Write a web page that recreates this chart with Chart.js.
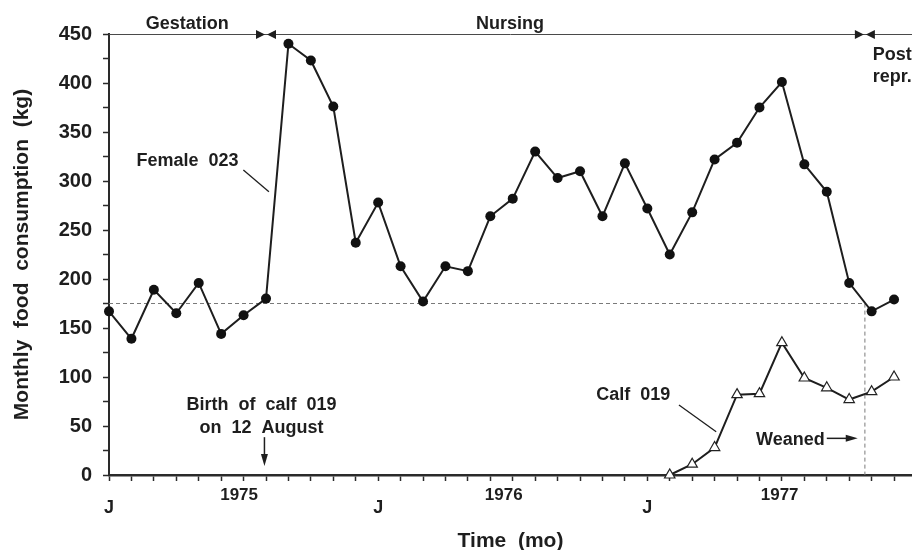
<!DOCTYPE html>
<html>
<head>
<meta charset="utf-8">
<script src="https://cdn.jsdelivr.net/npm/chart.js@4.4.1/dist/chart.umd.min.js"></script>
<style>
  html, body { margin: 0; padding: 0; background: #fff; }
  #wrap { width: 912px; height: 550px; position: relative; }
</style>
</head>
<body>
<div id="wrap"><canvas id="c"></canvas></div>
<script>
// ---- Data (month index: 0 = January 1975) ----
const femaleMonths = [0,1,2,3,4,5,6,7,8,9,10,11,12,13,14,15,16,17,18,19,20,21,22,23,24,25,26,27,28,29,30,31,32,33,34,35];
const femaleValues = [167,139,189,165,196,144,163,180,440,423,376,237,278,213,177,213,208,264,282,330,303,310,264,318,272,225,268,322,339,375,401,317,289,196,167,179];
const calfMonths = [25,26,27,28,29,30,31,32,33,34,35];
const calfValues = [0,11,28,82,83,135,99,89,77,85,100];

// x tick labels ("J" = January) and year labels
const janMonths = [0,12,24];
const yearLabels = ['1975','1976','1977'];
const yearPositions = [5.8,17.6,29.9];

// reference levels / events (data units)
const baselineLevel = 175;      // dashed horizontal level
const birthMonth = 7;           // 12 August 1975
const weanMonth = 33.7;         // weaning / end of nursing

const FONT = "'Liberation Sans', Arial, Helvetica, sans-serif";
const INK = '#1e1e1e';
Chart.defaults.font.family = FONT;
Chart.defaults.font.weight = 'bold';
Chart.defaults.color = INK;

const annot = {
  id: 'annot',
  beforeDatasetsDraw(chart) {
    const {ctx, scales: {x, y}} = chart;
    const X = v => x.getPixelForValue(v), Y = v => y.getPixelForValue(v);
    ctx.save();
    // dashed reference lines
    ctx.strokeStyle = '#7a7a7a';
    ctx.lineWidth = 1;
    ctx.setLineDash([4, 3]);
    ctx.beginPath();
    ctx.moveTo(X(0), Y(baselineLevel));
    ctx.lineTo(X(weanMonth), Y(baselineLevel));
    ctx.lineTo(X(weanMonth), Y(0));
    ctx.stroke();
    ctx.setLineDash([]);
    // phase line along the top
    ctx.strokeStyle = '#4a4a4a';
    ctx.beginPath();
    ctx.moveTo(X(0), Y(450) + 0.5);
    ctx.lineTo(chart.chartArea.right, Y(450) + 0.5);
    ctx.stroke();
    ctx.fillStyle = INK;
    [birthMonth, weanMonth].forEach(b => {
      const bx = X(b), by = Y(450) + 0.5;
      ctx.beginPath();
      ctx.moveTo(bx - 1, by); ctx.lineTo(bx - 10, by - 4.5); ctx.lineTo(bx - 10, by + 4.5); ctx.closePath(); ctx.fill();
      ctx.beginPath();
      ctx.moveTo(bx + 1, by); ctx.lineTo(bx + 10, by - 4.5); ctx.lineTo(bx + 10, by + 4.5); ctx.closePath(); ctx.fill();
    });
    ctx.restore();
  },
  afterDatasetsDraw(chart) {
    const {ctx, scales: {x, y}} = chart;
    const X = v => x.getPixelForValue(v), Y = v => y.getPixelForValue(v);
    ctx.save();
    ctx.fillStyle = INK;
    ctx.strokeStyle = INK;
    ctx.textBaseline = 'alphabetic';
    const txt = (s, xv, yv, align, size) => {
      ctx.font = 'bold ' + (size || 18) + 'px ' + FONT;
      ctx.textAlign = align || 'center';
      ctx.fillText(s, X(xv), Y(yv));
    };
    const seg = (x1, y1, x2, y2, w) => {
      ctx.lineWidth = w || 1.3;
      ctx.beginPath(); ctx.moveTo(X(x1), Y(y1)); ctx.lineTo(X(x2), Y(y2)); ctx.stroke();
    };
    // phase labels
    txt('Gestation', 3.49, 455);
    txt('Nursing', 17.88, 455);
    txt('Post', 34.05, 423.5, 'left');
    txt('repr.', 34.05, 401, 'left');
    // series labels + leaders
    txt('Female  023', 3.5, 315.6);
    seg(5.99, 311.2, 7.13, 289.1);
    txt('Calf  019', 23.37, 76.5);
    seg(25.41, 71.4, 27.07, 44.2);
    // birth annotation
    txt('Birth  of  calf  019', 6.8, 66.3);
    txt('on  12  August', 6.8, 42.5);
    {
      const bx = X(6.93), y1 = Y(38.6), y2 = Y(9.2);
      ctx.lineWidth = 1.5;
      ctx.beginPath(); ctx.moveTo(bx, y1); ctx.lineTo(bx, y2 - 8); ctx.stroke();
      ctx.beginPath(); ctx.moveTo(bx, y2); ctx.lineTo(bx - 3.5, y2 - 12); ctx.lineTo(bx + 3.5, y2 - 12); ctx.closePath(); ctx.fill();
    }
    // weaned annotation
    txt('Weaned', 28.85, 30.6, 'left');
    {
      const ay = Y(37.4), x1 = X(32.0), x2 = X(33.38);
      ctx.lineWidth = 1.5;
      ctx.beginPath(); ctx.moveTo(x1, ay); ctx.lineTo(x2 - 8, ay); ctx.stroke();
      ctx.beginPath(); ctx.moveTo(x2, ay); ctx.lineTo(x2 - 12, ay - 3.5); ctx.lineTo(x2 - 12, ay + 3.5); ctx.closePath(); ctx.fill();
    }
    // year labels under the x axis
    ctx.font = 'bold 17px ' + FONT;
    ctx.textAlign = 'center';
    yearLabels.forEach((s, i) => ctx.fillText(s, X(yearPositions[i]), 500));
    ctx.restore();
  }
};

new Chart(document.getElementById('c'), {
  type: 'line',
  data: {
    datasets: [
      {
        label: 'Female 023',
        data: femaleMonths.map((m, i) => ({x: m, y: femaleValues[i]})),
        borderColor: INK,
        borderWidth: 2,
        pointRadius: 5,
        pointBackgroundColor: '#111',
        pointBorderColor: '#111',
        pointBorderWidth: 0,
        tension: 0,
        clip: false
      },
      {
        label: 'Calf 019',
        data: calfMonths.map((m, i) => ({x: m, y: calfValues[i]})),
        borderColor: INK,
        borderWidth: 2,
        pointStyle: 'triangle',
        pointRadius: 6,
        pointBackgroundColor: '#fff',
        pointBorderColor: '#222',
        pointBorderWidth: 1.2,
        tension: 0,
        clip: false
      }
    ]
  },
  options: {
    responsive: true,
    maintainAspectRatio: false,
    animation: false,
    events: [],
    layout: { autoPadding: false, padding: { top: 34, left: 0, right: 0, bottom: 0 } },
    plugins: { legend: { display: false }, tooltip: { enabled: false } },
    scales: {
      x: {
        type: 'linear',
        min: 0,
        max: 35.8,
        afterFit(s) { s.height = 75; },
        border: { display: true, color: '#2a2a2a', width: 2.5 },
        grid: { display: true, drawOnChartArea: false, drawTicks: true, tickLength: 6, tickColor: '#2a2a2a', tickWidth: 1.5 },
        ticks: {
          stepSize: 1,
          includeBounds: false,
          autoSkip: false,
          maxRotation: 0,
          padding: 16,
          font: { size: 18, weight: 'bold' },
          color: INK,
          callback: v => janMonths.includes(v) ? 'J' : ''
        },
        title: {
          display: true,
          text: 'Time  (mo)',
          font: { size: 21, weight: 'bold', lineHeight: 0.8 },
          color: INK,
          padding: { top: 0, bottom: 0 }
        }
      },
      y: {
        min: 0,
        max: 450,
        afterFit(s) { s.width = 109; },
        border: { display: true, color: '#2a2a2a', width: 2 },
        grid: { display: true, drawOnChartArea: false, drawTicks: true, tickLength: 6, tickColor: '#2a2a2a', tickWidth: 1.5 },
        ticks: {
          stepSize: 25,
          autoSkip: false,
          padding: 11,
          font: { size: 20, weight: 'bold' },
          color: INK,
          callback: v => (v % 50 === 0 ? String(v) : '')
        },
        title: {
          display: true,
          text: 'Monthly  food  consumption  (kg)',
          font: { size: 21, weight: 'bold', lineHeight: 1.2 },
          color: INK,
          padding: { top: 10, bottom: 0 }
        }
      }
    }
  },
  plugins: [annot]
});
</script>
</body>
</html>
